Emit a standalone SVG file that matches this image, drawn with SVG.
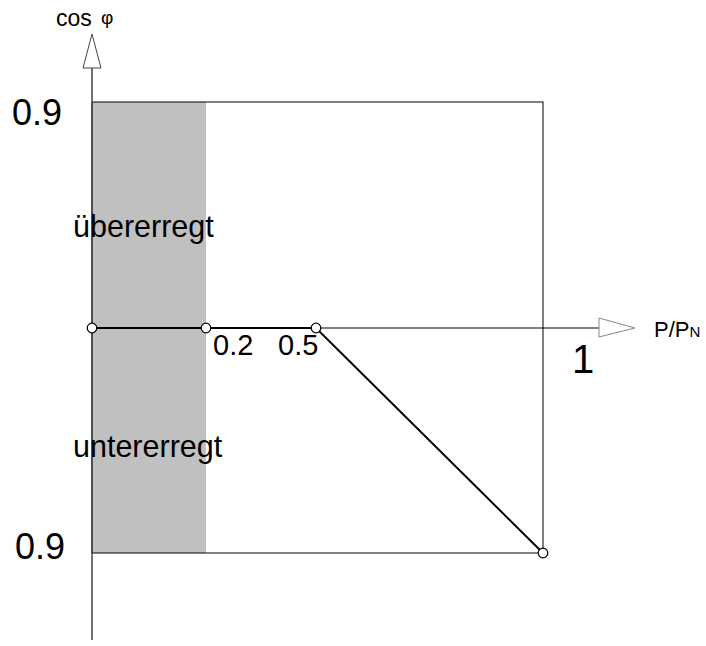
<svg xmlns="http://www.w3.org/2000/svg" width="706" height="646" viewBox="0 0 706 646">
<style>
text{font-family:"Liberation Sans",Arial,sans-serif;fill:#000}
.big{font-size:36px}
.lab{font-size:29px}
.zone{font-size:30.5px}
.dot{fill:#fff;stroke:#000;stroke-width:1.2}
</style>
<rect width="706" height="646" fill="#fff"/>
<g id="zone-ueber">
<rect x="92" y="102" width="114" height="451" fill="#c0c0c0"/>
</g>
<g id="frame">
<rect x="92" y="102" width="451" height="451" fill="none" stroke="#000" stroke-width="1"/>
</g>
<g id="connectors">
<line x1="92" y1="68" x2="92" y2="640" stroke="#444" stroke-width="1.5"/>
<polygon points="92,34 83,68 101,68" fill="#fff" stroke="#444" stroke-width="1"/>
<line x1="92" y1="328" x2="599" y2="328" stroke="#000" stroke-width="1"/>
<polygon points="599,318 635,328 599,337" fill="#fff" stroke="#888" stroke-width="1"/>
<polyline points="92,328 316,328 543,553" fill="none" stroke="#000" stroke-width="2"/>
</g>
<g id="points">
<circle class="dot" cx="92" cy="328" r="4.8"/>
<circle class="dot" cx="206" cy="328" r="4.8"/>
<circle class="dot" cx="316" cy="328" r="4.8"/>
<circle class="dot" cx="543" cy="553" r="4.8"/>
</g>
<g id="labels">
<text x="56" y="26" font-size="23">cos</text>
<text x="101" y="24" font-size="19" font-family="'DejaVu Sans',sans-serif">φ</text>
<text class="big" x="12" y="125">0.9</text>
<text class="big" x="15" y="559">0.9</text>
<text class="zone" x="73" y="237">übererregt</text>
<text class="zone" x="73" y="457">untererregt</text>
<text class="lab" x="213" y="355">0.2</text>
<text class="lab" x="278" y="355">0.5</text>
<text x="572" y="373" font-size="40">1</text>
<text x="654" y="337" font-size="22">P/P<tspan font-size="15">N</tspan></text>
</g>
</svg>
